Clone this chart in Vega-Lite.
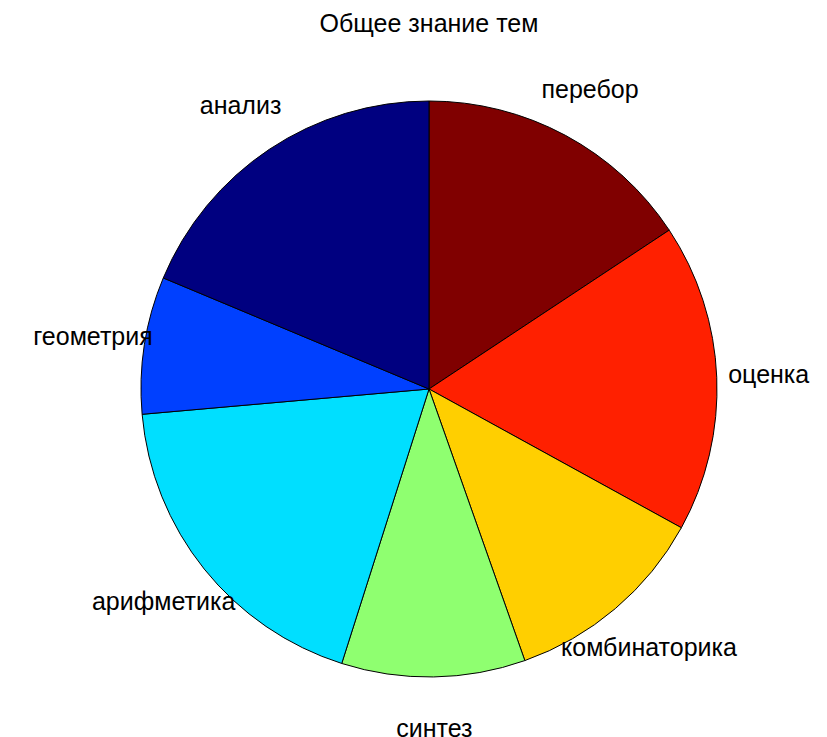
{
  "$schema": "https://vega.github.io/schema/vega-lite/v6.json",
  "width": 796,
  "height": 658,
  "autosize": {"type": "none"},
  "padding": {"left": 31, "top": 60, "right": 0, "bottom": 19},
  "background": "white",
  "title": {
    "text": "Общее знание тем",
    "font": "Liberation Sans",
    "fontSize": 25,
    "fontWeight": "normal",
    "color": "black",
    "frame": "group",
    "anchor": "middle",
    "baseline": "alphabetic",
    "offset": 3
  },
  "data": {
    "values": [
      {"topic": "перебор", "share": 15.7, "ord": 1},
      {"topic": "оценка", "share": 17.3, "ord": 2},
      {"topic": "комбинаторика", "share": 11.6, "ord": 3},
      {"topic": "синтез", "share": 10.3, "ord": 4},
      {"topic": "арифметика", "share": 18.7, "ord": 5},
      {"topic": "геометрия", "share": 7.7, "ord": 6},
      {"topic": "анализ", "share": 18.7, "ord": 7}
    ]
  },
  "encoding": {
    "theta": {"field": "share", "type": "quantitative", "stack": true},
    "order": {"field": "ord", "type": "quantitative", "sort": "ascending"}
  },
  "layer": [
    {
      "mark": {"type": "arc", "outerRadius": 288, "stroke": "black", "strokeWidth": 1},
      "encoding": {
        "color": {
          "field": "topic",
          "type": "nominal",
          "scale": {
            "domain": ["анализ", "геометрия", "арифметика", "синтез", "комбинаторика", "оценка", "перебор"],
            "range": ["#000080", "#0040FF", "#00DFFF", "#8FFF70", "#FFCF00", "#FF2000", "#800000"]
          },
          "legend": null
        }
      }
    },
    {
      "mark": {"type": "text", "radius": 340, "font": "Liberation Sans", "fontSize": 25, "color": "black", "align": "center", "baseline": "middle"},
      "encoding": {
        "text": {"field": "topic", "type": "nominal"}
      }
    }
  ]
}
